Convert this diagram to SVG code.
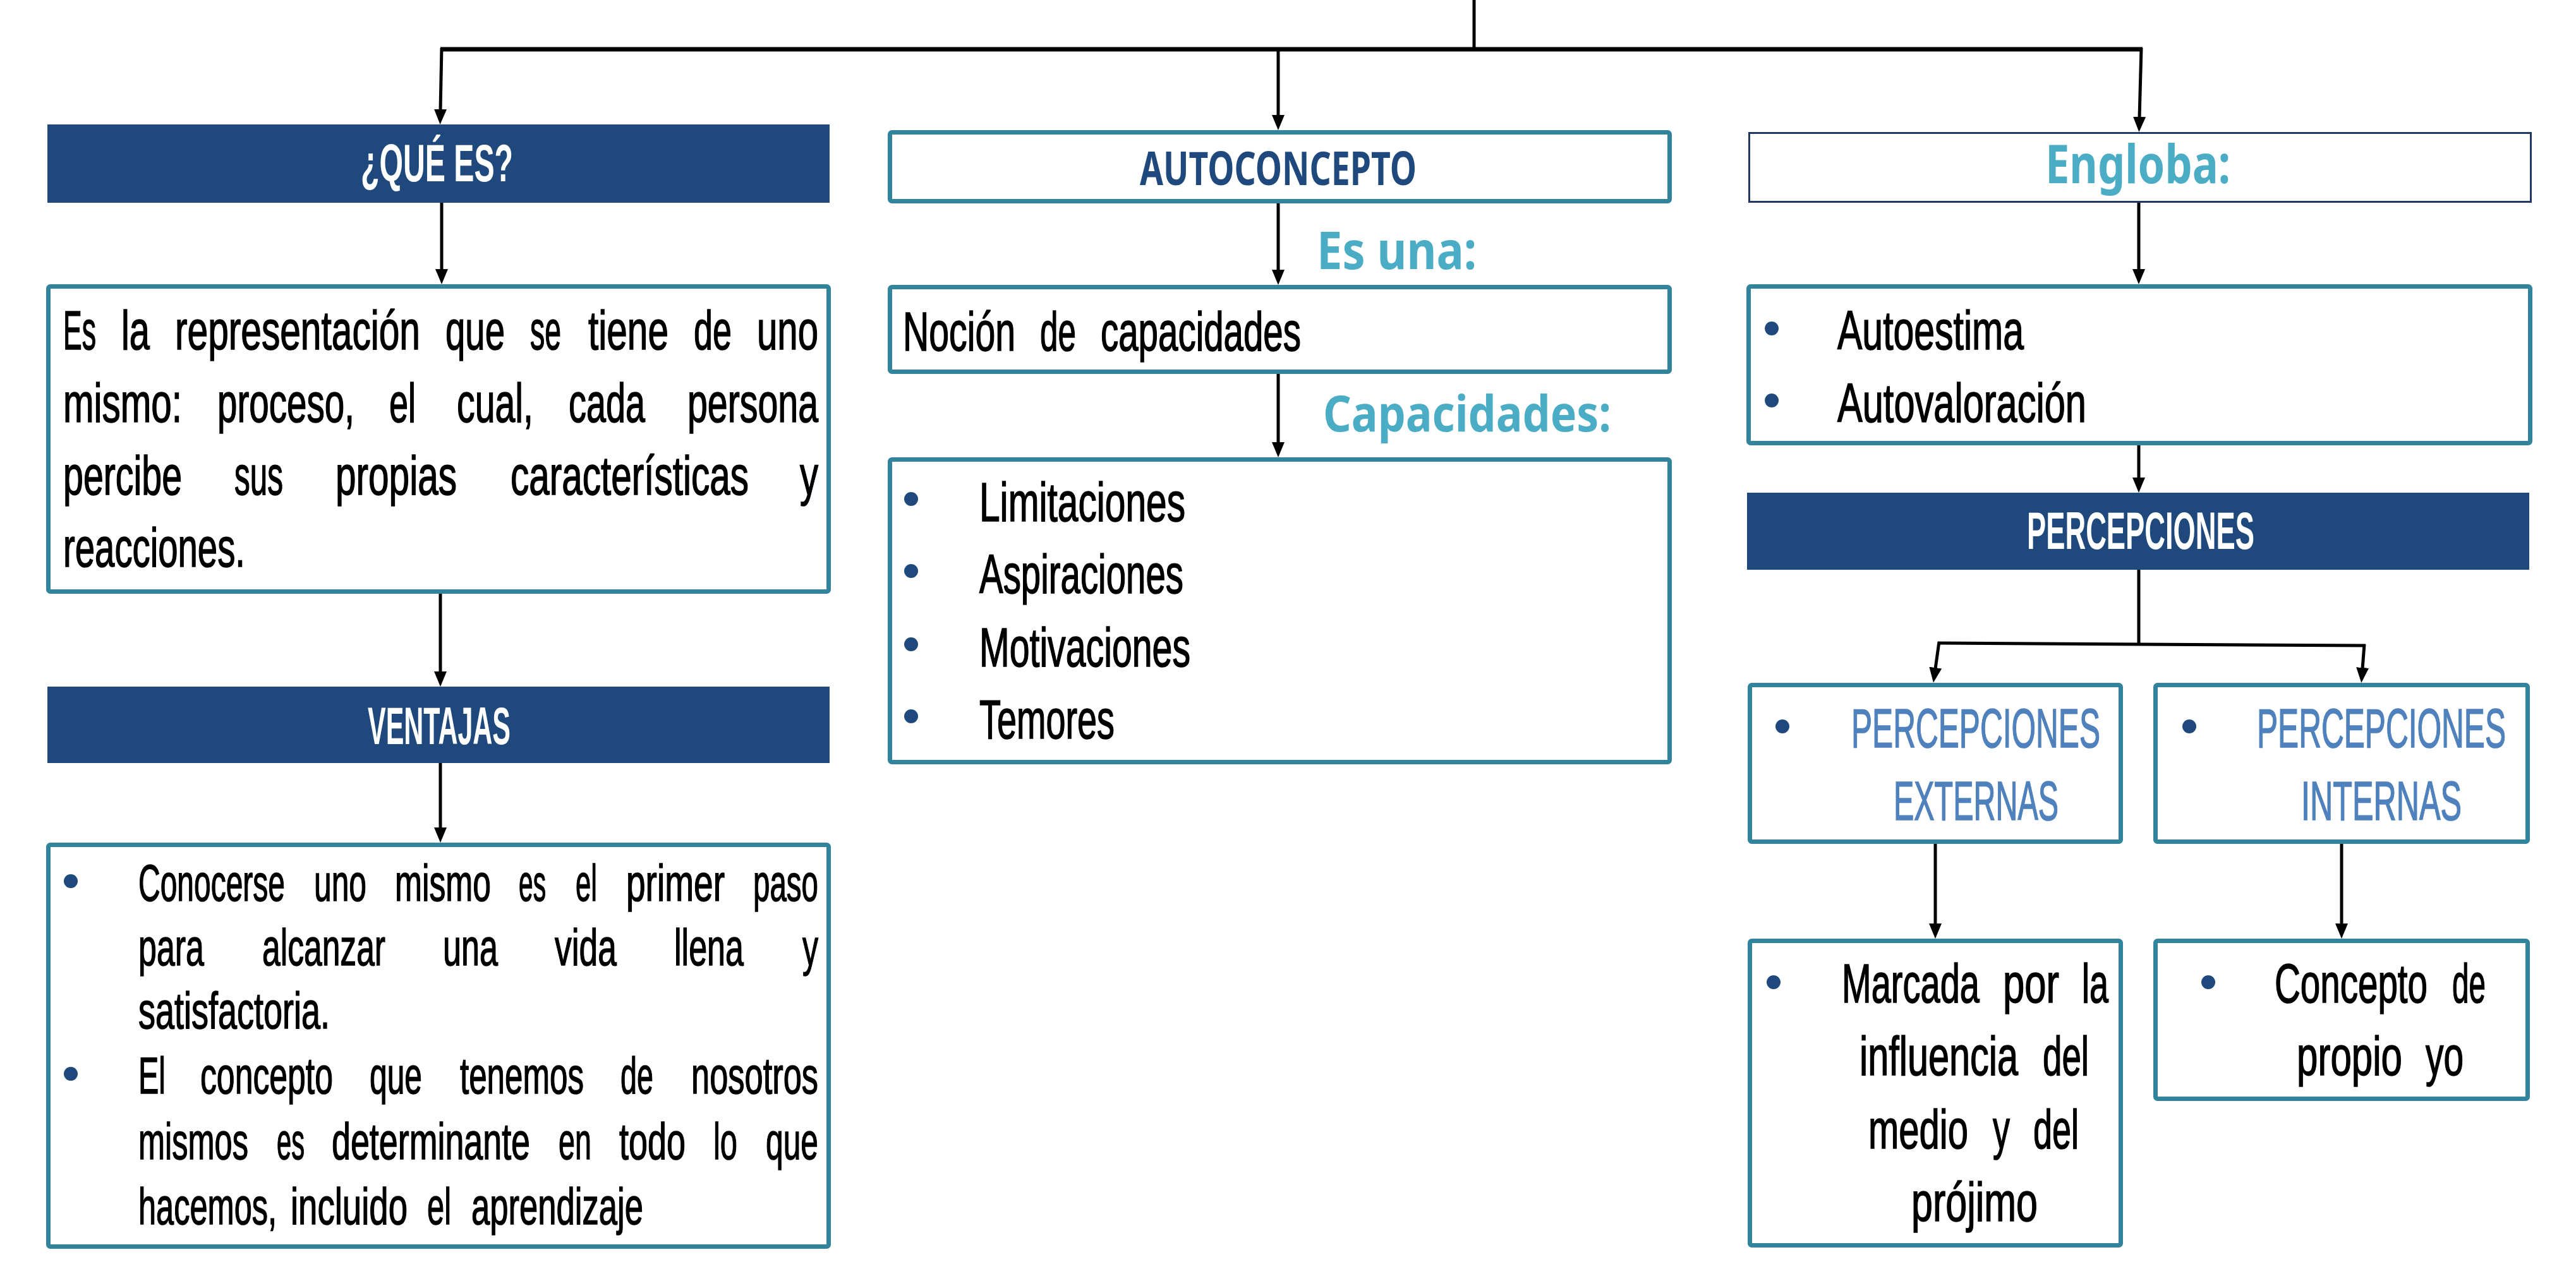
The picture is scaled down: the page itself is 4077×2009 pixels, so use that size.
<svg xmlns="http://www.w3.org/2000/svg" width="4077" height="2009" viewBox="0 0 4077 2009">
<style>
.tb{fill:#fff;stroke:#31849B;stroke-width:7}
.hb{fill:#1F497D}
.eb{fill:#fff;stroke:#1F3864;stroke-width:3}
.t{font-family:"Liberation Sans Narrow","Liberation Sans",Arial,sans-serif;font-size:88px;fill:#000;stroke:#000;stroke-width:1.6}
.v{font-family:"Liberation Sans Narrow","Liberation Sans",Arial,sans-serif;font-size:81px;fill:#000;stroke:#000;stroke-width:1.5}
.p{font-family:"Liberation Sans Narrow","Liberation Sans",Arial,sans-serif;font-size:88px;fill:#4F81BD;stroke:#4F81BD;stroke-width:1.6}
.h{font-family:"Liberation Sans Narrow","Liberation Sans",Arial,sans-serif;font-weight:bold;font-size:83px;fill:#fff}
.c{font-family:"Noto Sans","DejaVu Sans",sans-serif;font-weight:bold;fill:#4BACC6}
.a{font-family:"Noto Sans","DejaVu Sans",sans-serif;font-weight:bold;font-size:74px;fill:#1F497D}
.bl{fill:#1F497D}
.conn{stroke:#000;stroke-width:5;fill:none}
.top{stroke:#000;stroke-width:7;fill:none}
</style>
<defs>
<marker id="ah" markerUnits="userSpaceOnUse" markerWidth="26" markerHeight="22" refX="2" refY="10" orient="auto" viewBox="0 0 26 22">
<path d="M0,0 L24,10 L0,20 z" fill="#000"/>
</marker>
</defs>

<g id="connectors">
<line class="conn" x1="2333" y1="0" x2="2333" y2="78"/>
<line class="top" x1="697" y1="78" x2="3391" y2="78"/>
<path class="conn" d="M699,76 L697,175" marker-end="url(#ah)"/>
<path class="conn" d="M2023,78 L2023,184" marker-end="url(#ah)"/>
<path class="conn" d="M3389,76 L3386,187" marker-end="url(#ah)"/>
<path class="conn" d="M699,321 L699,428" marker-end="url(#ah)"/>
<path class="conn" d="M697,940 L697,1065" marker-end="url(#ah)"/>
<path class="conn" d="M697,1208 L697,1312" marker-end="url(#ah)"/>
<path class="conn" d="M2023,322 L2023,429" marker-end="url(#ah)"/>
<path class="conn" d="M2023,592 L2023,702" marker-end="url(#ah)"/>
<path class="conn" d="M3385,320 L3385,428" marker-end="url(#ah)"/>
<path class="conn" d="M3385,705 L3385,758" marker-end="url(#ah)"/>
<path class="conn" d="M3385,902 L3385,1020"/>
<path class="conn" d="M3067,1018 L3744,1022"/>
<path class="conn" d="M3069,1016 L3063,1059" marker-end="url(#ah)"/>
<path class="conn" d="M3742,1020 L3739,1059" marker-end="url(#ah)"/>
<path class="conn" d="M3063,1336 L3063,1464" marker-end="url(#ah)"/>
<path class="conn" d="M3706,1336 L3706,1464" marker-end="url(#ah)"/>
</g>

<g id="que-es">
<rect class="hb" x="75" y="197" width="1238" height="124"/>
<text class="h" x="571" y="287" textLength="241" lengthAdjust="spacingAndGlyphs">¿QUÉ ES?</text>
</g>

<g id="definicion">
<rect class="tb" x="76.5" y="453.5" width="1235" height="483" rx="3"/>
<text class="t" transform="matrix(.76 0 0 1 100 0)" x="0" y="553" textLength="68.4" lengthAdjust="spacingAndGlyphs">Es</text>
<text class="t" transform="matrix(.76 0 0 1 192 0)" x="0" y="553" textLength="59.2" lengthAdjust="spacingAndGlyphs">la</text>
<text class="t" transform="matrix(.76 0 0 1 277 0)" x="0" y="553" textLength="510.5" lengthAdjust="spacingAndGlyphs">representación</text>
<text class="t" transform="matrix(.76 0 0 1 705 0)" x="0" y="553" textLength="123.7" lengthAdjust="spacingAndGlyphs">que</text>
<text class="t" transform="matrix(.76 0 0 1 839 0)" x="0" y="553" textLength="64.5" lengthAdjust="spacingAndGlyphs">se</text>
<text class="t" transform="matrix(.76 0 0 1 931 0)" x="0" y="553" textLength="167.1" lengthAdjust="spacingAndGlyphs">tiene</text>
<text class="t" transform="matrix(.76 0 0 1 1098 0)" x="0" y="553" textLength="78.9" lengthAdjust="spacingAndGlyphs">de</text>
<text class="t" transform="matrix(.76 0 0 1 1198 0)" x="0" y="553" textLength="127.6" lengthAdjust="spacingAndGlyphs">uno</text>
<text class="t" transform="matrix(.76 0 0 1 100 0)" x="0" y="668" textLength="247.4" lengthAdjust="spacingAndGlyphs">mismo:</text>
<text class="t" transform="matrix(.76 0 0 1 344 0)" x="0" y="668" textLength="285.5" lengthAdjust="spacingAndGlyphs">proceso,</text>
<text class="t" transform="matrix(.76 0 0 1 616 0)" x="0" y="668" textLength="55.3" lengthAdjust="spacingAndGlyphs">el</text>
<text class="t" transform="matrix(.76 0 0 1 723 0)" x="0" y="668" textLength="159.2" lengthAdjust="spacingAndGlyphs">cual,</text>
<text class="t" transform="matrix(.76 0 0 1 900 0)" x="0" y="668" textLength="159.2" lengthAdjust="spacingAndGlyphs">cada</text>
<text class="t" transform="matrix(.76 0 0 1 1088 0)" x="0" y="668" textLength="272.4" lengthAdjust="spacingAndGlyphs">persona</text>
<text class="t" transform="matrix(.76 0 0 1 100 0)" x="0" y="783" textLength="247.4" lengthAdjust="spacingAndGlyphs">percibe</text>
<text class="t" transform="matrix(.76 0 0 1 371 0)" x="0" y="783" textLength="101.3" lengthAdjust="spacingAndGlyphs">sus</text>
<text class="t" transform="matrix(.76 0 0 1 531 0)" x="0" y="783" textLength="252.6" lengthAdjust="spacingAndGlyphs">propias</text>
<text class="t" transform="matrix(.76 0 0 1 808 0)" x="0" y="783" textLength="496.1" lengthAdjust="spacingAndGlyphs">características</text>
<text class="t" transform="matrix(.76 0 0 1 1266 0)" x="0" y="783" textLength="38.2" lengthAdjust="spacingAndGlyphs">y</text>
<text class="t" transform="matrix(.76 0 0 1 100 0)" x="0" y="897" textLength="378.9" lengthAdjust="spacingAndGlyphs">reacciones.</text>
</g>

<g id="ventajas">
<rect class="hb" x="75" y="1087" width="1238" height="121"/>
<text class="h" x="582" y="1178" textLength="226" lengthAdjust="spacingAndGlyphs">VENTAJAS</text>
</g>

<g id="ventajas-lista">
<rect class="tb" x="76.5" y="1337.5" width="1235" height="636" rx="3"/>
<circle class="bl" cx="112" cy="1395" r="11"/>
<circle class="bl" cx="112" cy="1700" r="11"/>
<text class="v" transform="matrix(.76 0 0 1 219 0)" x="0" y="1426" textLength="305.3" lengthAdjust="spacingAndGlyphs">Conocerse</text>
<text class="v" transform="matrix(.76 0 0 1 497 0)" x="0" y="1426" textLength="109.2" lengthAdjust="spacingAndGlyphs">uno</text>
<text class="v" transform="matrix(.76 0 0 1 625 0)" x="0" y="1426" textLength="200" lengthAdjust="spacingAndGlyphs">mismo</text>
<text class="v" transform="matrix(.76 0 0 1 821 0)" x="0" y="1426" textLength="56.6" lengthAdjust="spacingAndGlyphs">es</text>
<text class="v" transform="matrix(.76 0 0 1 911 0)" x="0" y="1426" textLength="44.7" lengthAdjust="spacingAndGlyphs">el</text>
<text class="v" transform="matrix(.76 0 0 1 991 0)" x="0" y="1426" textLength="205.3" lengthAdjust="spacingAndGlyphs">primer</text>
<text class="v" transform="matrix(.76 0 0 1 1192 0)" x="0" y="1426" textLength="135.5" lengthAdjust="spacingAndGlyphs">paso</text>
<text class="v" transform="matrix(.76 0 0 1 219 0)" x="0" y="1528" textLength="136.8" lengthAdjust="spacingAndGlyphs">para</text>
<text class="v" transform="matrix(.76 0 0 1 415 0)" x="0" y="1528" textLength="256.6" lengthAdjust="spacingAndGlyphs">alcanzar</text>
<text class="v" transform="matrix(.76 0 0 1 701 0)" x="0" y="1528" textLength="114.5" lengthAdjust="spacingAndGlyphs">una</text>
<text class="v" transform="matrix(.76 0 0 1 878 0)" x="0" y="1528" textLength="128.9" lengthAdjust="spacingAndGlyphs">vida</text>
<text class="v" transform="matrix(.76 0 0 1 1067 0)" x="0" y="1528" textLength="144.7" lengthAdjust="spacingAndGlyphs">llena</text>
<text class="v" transform="matrix(.76 0 0 1 1270 0)" x="0" y="1528" textLength="32.9" lengthAdjust="spacingAndGlyphs">y</text>
<text class="v" transform="matrix(.76 0 0 1 219 0)" x="0" y="1628" textLength="398.7" lengthAdjust="spacingAndGlyphs">satisfactoria.</text>
<text class="v" transform="matrix(.76 0 0 1 219 0)" x="0" y="1731" textLength="56.6" lengthAdjust="spacingAndGlyphs">El</text>
<text class="v" transform="matrix(.76 0 0 1 317 0)" x="0" y="1731" textLength="276.3" lengthAdjust="spacingAndGlyphs">concepto</text>
<text class="v" transform="matrix(.76 0 0 1 585 0)" x="0" y="1731" textLength="109.2" lengthAdjust="spacingAndGlyphs">que</text>
<text class="v" transform="matrix(.76 0 0 1 728 0)" x="0" y="1731" textLength="257.9" lengthAdjust="spacingAndGlyphs">tenemos</text>
<text class="v" transform="matrix(.76 0 0 1 982 0)" x="0" y="1731" textLength="68.4" lengthAdjust="spacingAndGlyphs">de</text>
<text class="v" transform="matrix(.76 0 0 1 1094 0)" x="0" y="1731" textLength="264.5" lengthAdjust="spacingAndGlyphs">nosotros</text>
<text class="v" transform="matrix(.76 0 0 1 219 0)" x="0" y="1835" textLength="228.9" lengthAdjust="spacingAndGlyphs">mismos</text>
<text class="v" transform="matrix(.76 0 0 1 438 0)" x="0" y="1835" textLength="57.9" lengthAdjust="spacingAndGlyphs">es</text>
<text class="v" transform="matrix(.76 0 0 1 525 0)" x="0" y="1835" textLength="413.2" lengthAdjust="spacingAndGlyphs">determinante</text>
<text class="v" transform="matrix(.76 0 0 1 884 0)" x="0" y="1835" textLength="68.4" lengthAdjust="spacingAndGlyphs">en</text>
<text class="v" transform="matrix(.76 0 0 1 980 0)" x="0" y="1835" textLength="138.2" lengthAdjust="spacingAndGlyphs">todo</text>
<text class="v" transform="matrix(.76 0 0 1 1129 0)" x="0" y="1835" textLength="50" lengthAdjust="spacingAndGlyphs">lo</text>
<text class="v" transform="matrix(.76 0 0 1 1212 0)" x="0" y="1835" textLength="109.2" lengthAdjust="spacingAndGlyphs">que</text>
<text class="v" transform="matrix(.76 0 0 1 219 0)" x="0" y="1938" textLength="288.2" lengthAdjust="spacingAndGlyphs">hacemos,</text>
<text class="v" transform="matrix(.76 0 0 1 460 0)" x="0" y="1938" textLength="243.4" lengthAdjust="spacingAndGlyphs">incluido</text>
<text class="v" transform="matrix(.76 0 0 1 676 0)" x="0" y="1938" textLength="50" lengthAdjust="spacingAndGlyphs">el</text>
<text class="v" transform="matrix(.76 0 0 1 746 0)" x="0" y="1938" textLength="357.9" lengthAdjust="spacingAndGlyphs">aprendizaje</text>
</g>

<g id="autoconcepto">
<rect class="tb" x="1408.5" y="209.5" width="1234" height="109" rx="3"/>
<text class="a" x="1804" y="293" textLength="438" lengthAdjust="spacingAndGlyphs">AUTOCONCEPTO</text>
</g>

<g id="label-es-una">
<text class="c" x="2084" y="426" font-size="82" textLength="253" lengthAdjust="spacingAndGlyphs">Es una:</text>
</g>

<g id="nocion">
<rect class="tb" x="1408.5" y="454.5" width="1234" height="134" rx="3"/>
<text class="t" transform="matrix(.76 0 0 1 1429 0)" x="0" y="555" textLength="234.2" lengthAdjust="spacingAndGlyphs">Noción</text>
<text class="t" transform="matrix(.76 0 0 1 1646 0)" x="0" y="555" textLength="75" lengthAdjust="spacingAndGlyphs">de</text>
<text class="t" transform="matrix(.76 0 0 1 1742 0)" x="0" y="555" textLength="417.1" lengthAdjust="spacingAndGlyphs">capacidades</text>
</g>

<g id="label-capacidades">
<text class="c" x="2094" y="683" font-size="78" textLength="456" lengthAdjust="spacingAndGlyphs">Capacidades:</text>
</g>

<g id="capacidades">
<rect class="tb" x="1408.5" y="727.5" width="1234" height="479" rx="3"/>
<circle class="bl" cx="1442" cy="790" r="11"/>
<circle class="bl" cx="1442" cy="904" r="11"/>
<circle class="bl" cx="1442" cy="1020" r="11"/>
<circle class="bl" cx="1442" cy="1134" r="11"/>
<text class="t" transform="matrix(.76 0 0 1 1550 0)" x="0" y="825" textLength="428.9" lengthAdjust="spacingAndGlyphs">Limitaciones</text>
<text class="t" transform="matrix(.76 0 0 1 1550 0)" x="0" y="939" textLength="425" lengthAdjust="spacingAndGlyphs">Aspiraciones</text>
<text class="t" transform="matrix(.76 0 0 1 1550 0)" x="0" y="1055" textLength="439.5" lengthAdjust="spacingAndGlyphs">Motivaciones</text>
<text class="t" transform="matrix(.76 0 0 1 1550 0)" x="0" y="1169" textLength="281.6" lengthAdjust="spacingAndGlyphs">Temores</text>
</g>

<g id="engloba">
<rect class="eb" x="2768.5" y="210.5" width="1237" height="109"/>
<text class="c" x="3237" y="290" font-size="84" textLength="293" lengthAdjust="spacingAndGlyphs">Engloba:</text>
</g>

<g id="autoestima">
<rect class="tb" x="2767.5" y="453.5" width="1237" height="248" rx="3"/>
<circle class="bl" cx="2804" cy="520" r="11"/>
<circle class="bl" cx="2804" cy="634" r="11"/>
<text class="t" transform="matrix(.76 0 0 1 2908 0)" x="0" y="553" textLength="388.2" lengthAdjust="spacingAndGlyphs">Autoestima</text>
<text class="t" transform="matrix(.76 0 0 1 2908 0)" x="0" y="668" textLength="518.4" lengthAdjust="spacingAndGlyphs">Autovaloración</text>
</g>

<g id="percepciones">
<rect class="hb" x="2765" y="780" width="1238" height="122"/>
<text class="h" x="3208" y="869" textLength="360" lengthAdjust="spacingAndGlyphs">PERCEPCIONES</text>
</g>

<g id="externas">
<rect class="tb" x="2769.5" y="1084.5" width="587" height="248" rx="3"/>
<circle class="bl" cx="2821" cy="1150" r="11"/>
<text class="p" transform="matrix(.68 0 0 1 2930 0)" x="0" y="1183" textLength="579.4" lengthAdjust="spacingAndGlyphs">PERCEPCIONES</text>
<text class="p" transform="matrix(.68 0 0 1 2997 0)" x="0" y="1298" textLength="383.8" lengthAdjust="spacingAndGlyphs">EXTERNAS</text>
</g>

<g id="internas">
<rect class="tb" x="3411.5" y="1084.5" width="589" height="248" rx="3"/>
<circle class="bl" cx="3465" cy="1150" r="11"/>
<text class="p" transform="matrix(.68 0 0 1 3572 0)" x="0" y="1183" textLength="579.4" lengthAdjust="spacingAndGlyphs">PERCEPCIONES</text>
<text class="p" transform="matrix(.68 0 0 1 3642 0)" x="0" y="1298" textLength="373.5" lengthAdjust="spacingAndGlyphs">INTERNAS</text>
</g>

<g id="marcada">
<rect class="tb" x="2769.5" y="1489.5" width="587" height="482" rx="3"/>
<circle class="bl" cx="2807" cy="1555" r="11"/>
<text class="t" transform="matrix(.76 0 0 1 2915 0)" x="0" y="1587" textLength="286.8" lengthAdjust="spacingAndGlyphs">Marcada</text>
<text class="t" transform="matrix(.76 0 0 1 3170 0)" x="0" y="1587" textLength="117.1" lengthAdjust="spacingAndGlyphs">por</text>
<text class="t" transform="matrix(.76 0 0 1 3295 0)" x="0" y="1587" textLength="55.3" lengthAdjust="spacingAndGlyphs">la</text>
<text class="t" transform="matrix(.76 0 0 1 2943 0)" x="0" y="1702" textLength="330.3" lengthAdjust="spacingAndGlyphs">influencia</text>
<text class="t" transform="matrix(.76 0 0 1 3233 0)" x="0" y="1702" textLength="96.1" lengthAdjust="spacingAndGlyphs">del</text>
<text class="t" transform="matrix(.76 0 0 1 2957 0)" x="0" y="1818" textLength="207.9" lengthAdjust="spacingAndGlyphs">medio</text>
<text class="t" transform="matrix(.76 0 0 1 3154 0)" x="0" y="1818" textLength="35.5" lengthAdjust="spacingAndGlyphs">y</text>
<text class="t" transform="matrix(.76 0 0 1 3218 0)" x="0" y="1818" textLength="94.7" lengthAdjust="spacingAndGlyphs">del</text>
<text class="t" transform="matrix(.76 0 0 1 3025 0)" x="0" y="1933" textLength="263.2" lengthAdjust="spacingAndGlyphs">prójimo</text>
</g>

<g id="concepto">
<rect class="tb" x="3411.5" y="1489.5" width="589" height="250" rx="3"/>
<circle class="bl" cx="3495" cy="1555" r="11"/>
<text class="t" transform="matrix(.76 0 0 1 3600 0)" x="0" y="1587" textLength="318.4" lengthAdjust="spacingAndGlyphs">Concepto</text>
<text class="t" transform="matrix(.76 0 0 1 3881 0)" x="0" y="1587" textLength="69.7" lengthAdjust="spacingAndGlyphs">de</text>
<text class="t" transform="matrix(.76 0 0 1 3635 0)" x="0" y="1702" textLength="219.7" lengthAdjust="spacingAndGlyphs">propio</text>
<text class="t" transform="matrix(.76 0 0 1 3839 0)" x="0" y="1702" textLength="78.9" lengthAdjust="spacingAndGlyphs">yo</text>
</g>
</svg>
